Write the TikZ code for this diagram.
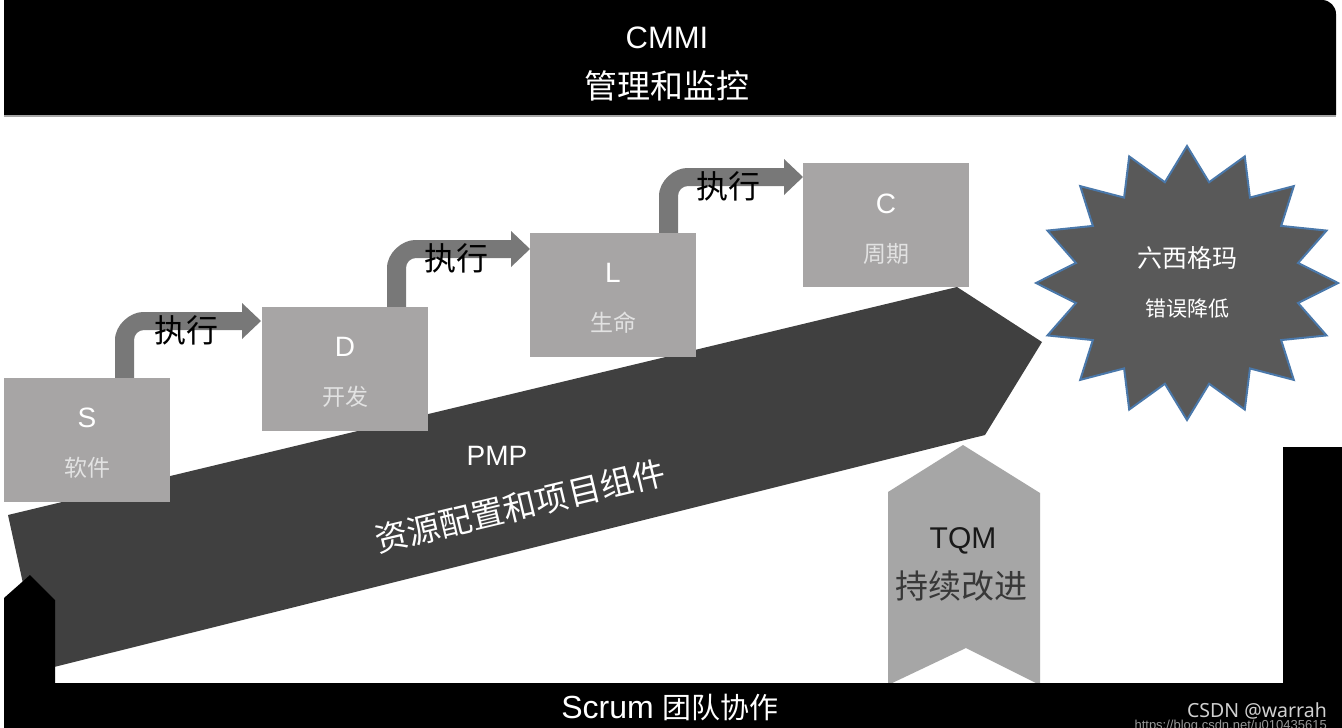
\documentclass[tikz,border=0pt]{standalone}
\usepackage{fontspec}
\setmainfont{Liberation Sans}
\newfontfamily\cjk{Noto Sans CJK SC}
\newfontfamily\notosans{Noto Sans}
\definecolor{boxgray}{HTML}{A7A5A5}
\definecolor{pmpgray}{HTML}{404040}
\definecolor{arrgray}{HTML}{787878}
\definecolor{tqmgray}{HTML}{A6A6A6}
\definecolor{stargray}{HTML}{595959}
\definecolor{starblue}{HTML}{4A78AA}
\definecolor{labelwhite}{HTML}{E2E2E2}
\newcommand{\bentarr}[4]{%
  \fill[arrgray] (#1,#2) -- (#1,#3+28) .. controls (#1,#3+12.5) and (#1+15.5,#3) .. (#1+28,#3)
    -- (#4-19,#3) -- (#4-19,#3-9) -- (#4,#3+9) -- (#4-19,#3+27) -- (#4-19,#3+18)
    -- (#1+29,#3+18) .. controls (#1+23.5,#3+18) and (#1+19,#3+22.5) .. (#1+19,#3+28)
    -- (#1+19,#2) -- cycle;}
\begin{document}
\begin{tikzpicture}[x=1pt,y=-1pt,
  stepbox/.style={fill=boxgray, minimum width=166pt, minimum height=124pt, anchor=north west, inner sep=0pt, draw=none},
  letter/.style={anchor=base, text=white, inner sep=0pt, font=\fontsize{28}{32}\selectfont},
  boxlabel/.style={anchor=base, text=labelwhite, inner sep=0pt, font=\cjk\fontsize{23}{27}\selectfont},
  exec/.style={anchor=base, text=black, inner sep=0pt, font=\cjk\fontsize{32}{36}\selectfont},
  whitetxt/.style={anchor=base, text=white, inner sep=0pt}]
\useasboundingbox (0,0) rectangle (1342,728);
\clip (0,0) rectangle (1342,728);
\fill[white] (0,0) rectangle (1342,728);

% PMP big arrow
\fill[pmpgray] (8,515) -- (957,287) -- (1042,342) -- (985,435) -- (42,670) -- cycle;

% TQM arrow
\fill[tqmgray] (963,445) -- (1040,493) -- (1040,685) -- (966,648) -- (888,685) -- (888,492) -- cycle;

% bent arrows
\bentarr{115}{385}{312}{261}
\bentarr{387}{314}{240}{530}
\bentarr{659}{240}{168}{803}

% boxes
\node[stepbox] (S) at (4,378) {};
\node[stepbox] (D) at (262,307) {};
\node[stepbox] (L) at (530,233) {};
\node[stepbox] (C) at (803,163) {};

% black frame
\fill[black] (4,0) -- (4,115) -- (1336,115) -- (1336,14) .. controls (1336,6.3) and (1329.7,0) .. (1322,0) -- cycle;
\draw[gray!70, line width=1.2pt] (4,116) -- (1336,116);
\fill[black] (4,598) -- (30,575) -- (55,600) -- (55,683) -- (1283,683) -- (1283,447) -- (1342,447) -- (1342,728) -- (4,728) -- cycle;

% star
\draw[fill=stargray, draw=starblue, line width=2pt, line join=miter, shift={(1187,283)}]
  (90:151 and 137)
  \foreach \i [evaluate=\i as \r using {mod(\i,2)==0?1:0.75}] in {1,...,31} { -- ({90+11.25*\i}:{151*\r} and {137*\r}) } -- cycle;

% header texts
\node[whitetxt, font=\fontsize{31}{36}\selectfont] (cmmi) at (667,48) {CMMI};
\node[whitetxt, font=\cjk\fontsize{33}{38}\selectfont] (mgmt) at (667,98) {管理和监控};

% box texts
\node[letter] (St) at (87,427) {S};
\node[boxlabel] (Sl) at (87,476) {软件};
\node[letter] (Dt) at (345,356) {D};
\node[boxlabel] (Dl) at (345,405) {开发};
\node[letter] (Lt) at (613,282) {L};
\node[boxlabel] (Ll) at (613,331) {生命};
\node[letter] (Ct) at (886,213) {C};
\node[boxlabel] (Cl) at (886,262) {周期};

% execute labels
\node[exec] (e1) at (186,342) {执行};
\node[exec] (e2) at (456,270) {执行};
\node[exec] (e3) at (728,198) {执行};

% PMP texts
\node[whitetxt, font=\fontsize{28}{32}\selectfont] (pmp) at (497,465) {PMP};
\node[text=white, inner sep=0pt, rotate=13.5, font=\cjk\fontsize{33}{38}\selectfont] (pmpl) at (520,506) {资源配置和项目组件};

% TQM texts
\node[anchor=base, inner sep=0pt, text=black!90, font=\fontsize{30}{34}\selectfont] (tqm) at (963,548) {TQM};
\node[anchor=base, inner sep=0pt, text=black!78, font=\cjk\fontsize{33}{38}\selectfont] (tqml) at (961,598) {持续改进};

% star texts
\node[whitetxt, font=\cjk\fontsize{25}{29}\selectfont] (six) at (1187,267) {六西格玛};
\node[whitetxt, font=\cjk\fontsize{21}{25}\selectfont] (err) at (1187,316) {错误降低};

% bottom texts
\node[whitetxt, font=\fontsize{32}{36}\selectfont] (scrum) at (670,718) {Scrum\hspace{9pt}{\cjk\fontsize{29}{34}\selectfont 团队协作}};
\node[anchor=base east, inner sep=0pt, text=black!18, font=\notosans\fontsize{19.5}{23}\selectfont] (csdn) at (1327,717) {CSDN @warrah};
\node[anchor=base east, inner sep=0pt, text=black!40, font=\fontsize{13}{15}\selectfont] (url) at (1327,729) {https://blog.csdn.net/u010435615};
\end{tikzpicture}
\end{document}
